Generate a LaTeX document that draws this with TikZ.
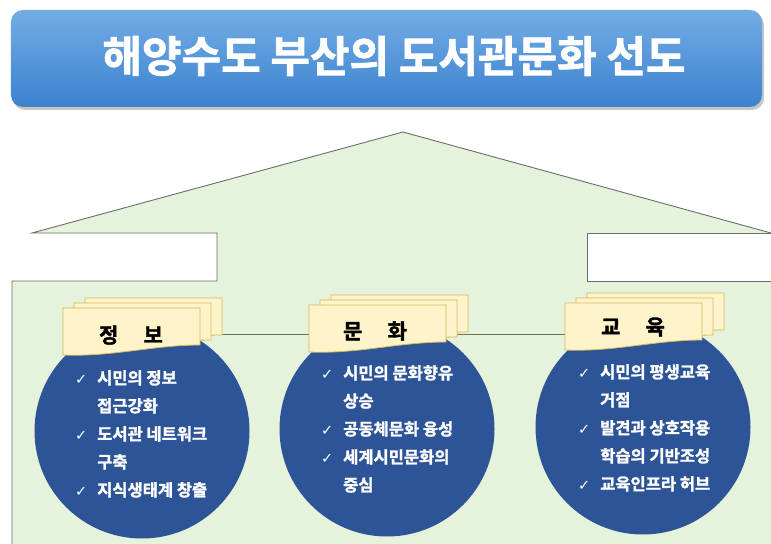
\documentclass[tikz,border=0pt]{standalone}
\usepackage{fontspec}
\setmainfont{Noto Sans CJK KR}[BoldFont={Noto Sans CJK KR Bold}, BoldFeatures={FakeBold=1.6}]
\newfontfamily\symfont{DejaVu Sans}
\usetikzlibrary{shadows,backgrounds}
\definecolor{housegreen}{RGB}{229,242,220}
\definecolor{wallgray}{RGB}{105,110,105}
\definecolor{bubbleblue}{RGB}{44,84,151}
\definecolor{cardyellow}{RGB}{255,243,202}
\definecolor{cardgold}{RGB}{214,184,92}
\definecolor{titletop}{RGB}{114,172,228}
\definecolor{titlebottom}{RGB}{60,130,208}
% one yellow page with a wavy lower edge
\newcommand{\docpage}[2]{\draw[page] (#1,#2) -- ({#1+137},#2) -- ({#1+137},{#2+37})
  .. controls ({#1+90},{#2+37}) and ({#1+50},{#2+49}) .. (#1,{#2+47}) -- cycle;}
\newcommand{\cardstack}[2]{\docpage{#1+22}{#2-10}\docpage{#1+11}{#2-5}\docpage{#1}{#2}}
\newcommand{\ck}{\makebox[22bp][l]{\mdseries\symfont\fontsize{14.5bp}{28bp}\selectfont ✓}}
\newcommand{\ind}{\hspace*{22bp}}
\begin{document}
\begin{tikzpicture}[x=1bp,y=-1bp,
  titlebox/.style={rectangle, rounded corners=12bp, top color=titletop, bottom color=titlebottom,
    minimum width=751bp, minimum height=97bp,
    drop shadow={shadow xshift=2bp, shadow yshift=-3bp, opacity=0.45}},
  titletext/.style={text=white, inner sep=0pt, font=\bfseries\fontsize{43bp}{50bp}\selectfont},
  wall/.style={draw=wallgray, line width=0.9bp},
  wire/.style={draw=wallgray!80!olive, line width=0.9bp},
  bubble/.style={circle, fill=bubbleblue, minimum size=215bp, inner sep=0pt},
  page/.style={draw=cardgold, fill=cardyellow, line width=0.8bp},
  tag/.style={font=\bfseries\fontsize{21bp}{24bp}\selectfont, inner sep=0pt},
  list/.style={anchor=north west, align=left, text=white, inner sep=0pt,
    font=\bfseries\fontsize{16.5bp}{28bp}\selectfont}]
\useasboundingbox (0,0) rectangle (771,544);
% title
\node (title) [titlebox] at (386.5,58.5) {};
\node (title-text) [titletext] at (394,56) {해양수도 부산의 도서관문화 선도};
% three circles
\node (info) [bubble] at (142,431) {};
\node (culture) [bubble] at (387,429) {};
\node (edu) [bubble] at (643,427) {};
% stacked cards
\cardstack{63}{308}
\cardstack{309}{305}
\cardstack{565}{303}
\node (info-tag) [tag] at (131,335) {정\hspace{1.2em}보};
\node (culture-tag) [tag] at (375,331) {문\hspace{1.2em}화};
\node (edu-tag) [tag] at (633,327) {교\hspace{1.2em}육};
% lists
\node (info-list) [list] at (75,370) {\ck 시민의 정보\\ \ind 접근강화\\ \ck 도서관 네트워크\\ \ind 구축\\ \ck 지식생태계 창출};
\node (culture-list) [list] at (321,365) {\ck 시민의 문화향유\\ \ind 상승\\ \ck 공동체문화 융성\\ \ck 세계시민문화의\\ \ind 중심};
\node (edu-list) [list] at (578,364) {\ck 시민의 평생교육\\ \ind 거점\\ \ck 발견과 상호작용\\ \ind 학습의 기반조성\\ \ck 교육인프라 허브};
% house and connector behind everything
\begin{pgfonlayer}{background}
\fill[housegreen] (12,544) -- (12,281) -- (217,281) -- (217,233) -- (32,233) -- (403,132) -- (771,233)
  -- (587,233) -- (587,281) -- (771,281) -- (771,544) -- cycle;
\draw[wall] (12,544) -- (12,281) -- (217,281) -- (217,233) -- (32,233) -- (403,132) -- (771,233);
\draw[wall] (771,233) -- (587,233) -- (587,281) -- (771,281);
\draw[wire] (info-tag |- 0,334) -- (edu-tag |- 0,334);
\end{pgfonlayer}
\end{tikzpicture}
\end{document}
